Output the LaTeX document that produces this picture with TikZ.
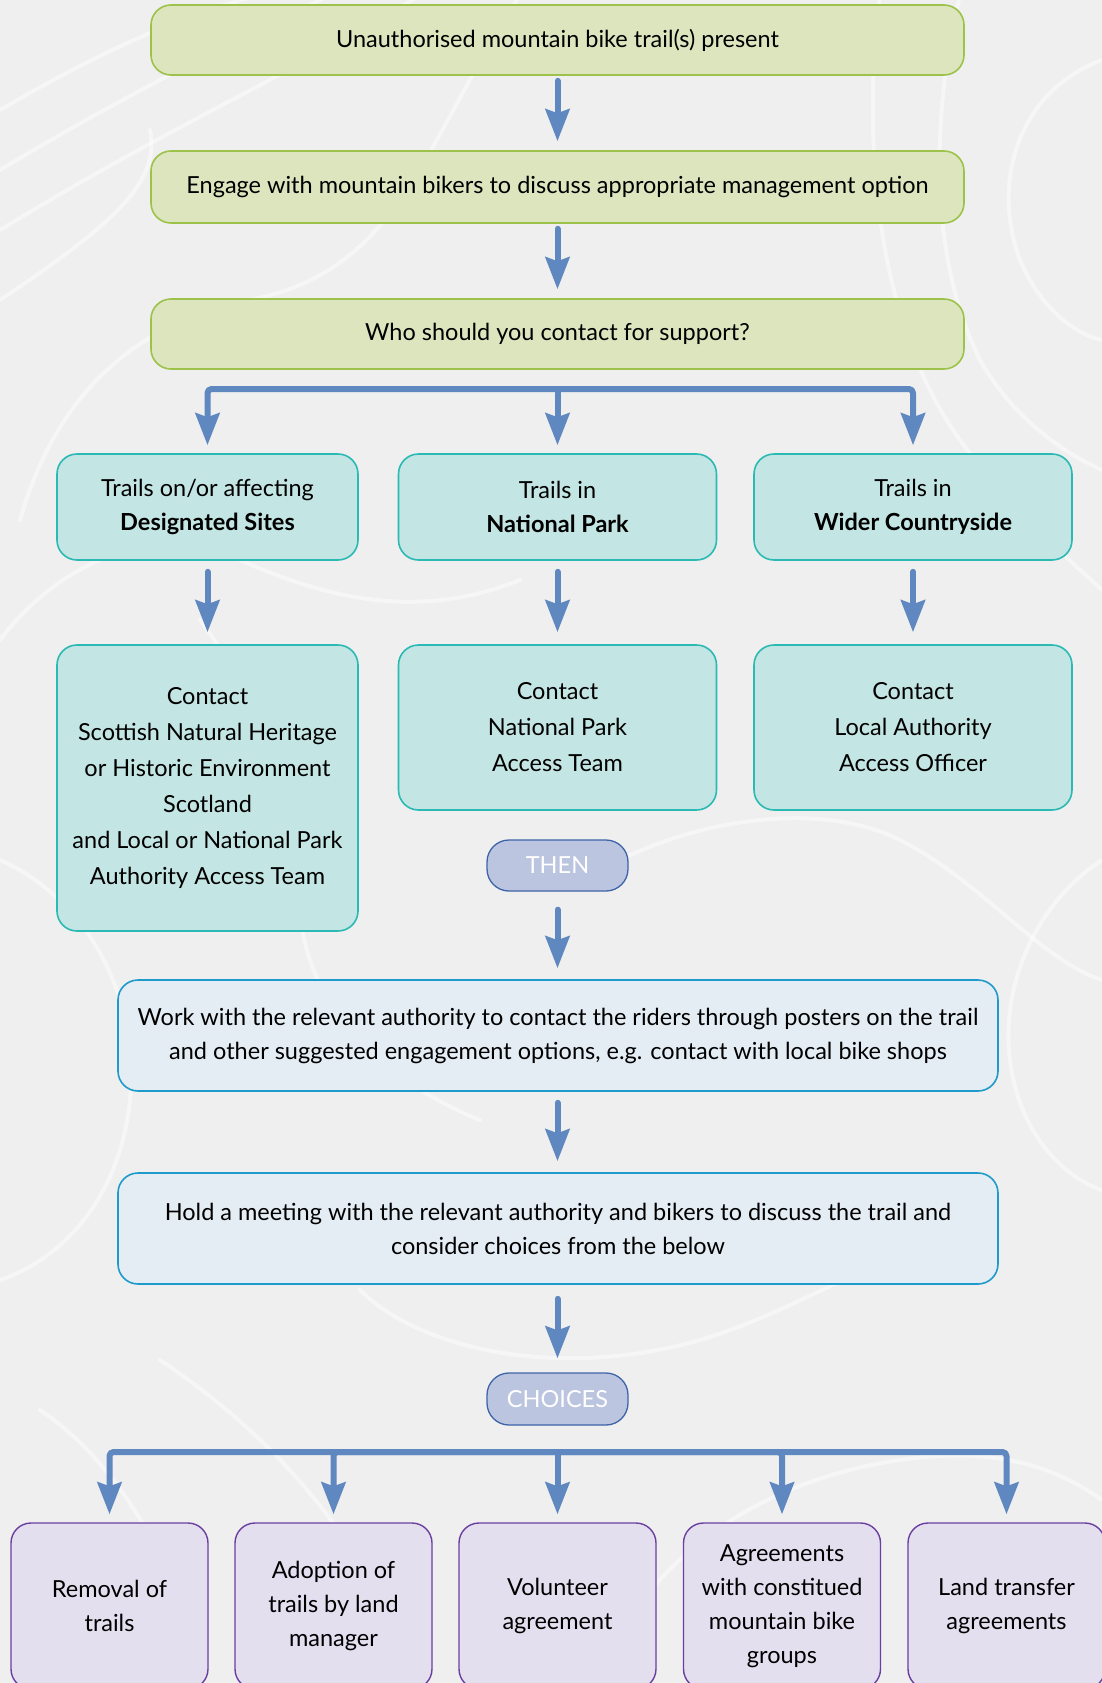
\documentclass[tikz,border=0pt]{standalone}
\usepackage{fontspec}
\setmainfont{Lato}
\usetikzlibrary{arrows.meta}
\definecolor{bg}{HTML}{EFEFEF}
\definecolor{greenfill}{HTML}{DDE5BF}
\definecolor{greenline}{HTML}{9CC24A}
\definecolor{tealfill}{HTML}{C3E5E3}
\definecolor{tealline}{HTML}{2BBAB3}
\definecolor{pillfill}{HTML}{BCC5E0}
\definecolor{pillline}{HTML}{3D64A8}
\definecolor{bluefill}{HTML}{E4ECF4}
\definecolor{blueline}{HTML}{1E9BCB}
\definecolor{purpfill}{HTML}{E3DFEF}
\definecolor{purpline}{HTML}{6B3FA0}
\definecolor{arrowc}{HTML}{6088C0}
\begin{document}
\begin{tikzpicture}[x=1pt,y=-1pt,
  font=\fontsize{23.5}{34}\selectfont,
  box/.style={draw, line width=1.6pt, rounded corners=20pt, align=center, inner sep=0pt, text=black},
  greenbox/.style={box, fill=greenfill, draw=greenline, minimum width=813pt},
  tealbox/.style={box, fill=tealfill, draw=tealline},
  contactbox/.style={tealbox, font=\fontsize{23.5}{36}\selectfont},
  pill/.style={box, fill=pillfill, draw=pillline, rounded corners=22pt, text=white, minimum width=141pt, minimum height=51pt, line width=1.3pt},
  bluebox/.style={box, fill=bluefill, draw=blueline, minimum width=880pt, minimum height=111pt},
  purpbox/.style={box, fill=purpfill, draw=purpline, minimum width=197pt, minimum height=166pt, line width=1.4pt},
  flowline/.style={draw=arrowc, line width=6pt, line cap=round, line join=round},
  flow/.style={flowline, -{Stealth[length=32pt,width=24pt,inset=4pt]}},
  contour/.style={draw=white, line width=4pt, opacity=0.45, line cap=round}
]
\useasboundingbox (0,0) rectangle (1102,1683);
\clip (0,0) rectangle (1102,1683);
\fill[bg] (0,0) rectangle (1102,1683);

% background contour lines
\draw[contour] (0,110) .. controls (120,40) and (200,10) .. (260,-5);
\draw[contour] (0,170) .. controls (150,80) and (260,30) .. (330,-5);
\draw[contour] (0,230) .. controls (180,120) and (320,60) .. (420,-5);
\draw[contour] (0,300) .. controls (120,220) and (160,180) .. (150,130);
\draw[contour] (20,520) .. controls (60,380) and (150,320) .. (250,300) .. controls (400,270) and (420,150) .. (520,-5);
\draw[contour] (0,640) .. controls (60,560) and (160,520) .. (240,560) .. controls (330,600) and (420,620) .. (520,580);
\draw[contour] (1102,60) .. controls (1020,90) and (990,180) .. (1020,260) .. controls (1050,330) and (1100,340) .. (1102,340);
\draw[contour] (960,-5) .. controls (930,120) and (930,260) .. (980,360) .. controls (1020,430) and (1080,460) .. (1102,470);
\draw[contour] (880,-5) .. controls (860,150) and (880,330) .. (960,440) .. controls (1010,510) and (1070,560) .. (1102,590);
\draw[contour] (0,860) .. controls (90,900) and (140,1000) .. (130,1100) .. controls (120,1200) and (60,1260) .. (0,1280);
\draw[contour] (1102,860) .. controls (1040,900) and (1000,980) .. (1010,1060) .. controls (1020,1140) and (1070,1180) .. (1102,1190);
\draw[contour] (360,1290) .. controls (420,1350) and (560,1380) .. (700,1340) .. controls (800,1310) and (860,1260) .. (960,1240);
\draw[contour] (600,1683) .. controls (640,1560) and (760,1480) .. (900,1460) .. controls (1000,1445) and (1060,1470) .. (1102,1500);
\draw[contour] (40,1410) .. controls (100,1450) and (150,1520) .. (190,1620);
\draw[contour] (160,1360) .. controls (250,1420) and (330,1500) .. (380,1600);
\draw[contour] (200,620) .. controls (260,700) and (300,800) .. (300,900) .. controls (300,1000) and (380,1080) .. (480,1120);
\draw[contour] (620,860) .. controls (700,820) and (820,800) .. (900,840) .. controls (980,880) and (1040,960) .. (1102,980);

% top green boxes
\node[greenbox, minimum height=70pt] (b1) at (557.5,40) {Unauthorised mountain bike trail(s) present};
\node[greenbox, minimum height=72pt] (b2) at (557.5,187) {Engage with mountain bikers to discuss appropriate management option};
\node[greenbox, minimum height=70pt] (b3) at (557.5,334) {Who should you contact for support?};

% teal row
\node[tealbox, minimum width=301pt, minimum height=106pt] (t1) at (207.5,507) {Trails on/or affecting\\\textbf{Designated Sites}};
\node[tealbox, minimum width=318pt, minimum height=106pt] (t2) at (557.5,507) {Trails in\\\textbf{National Park}};
\node[tealbox, minimum width=318pt, minimum height=106pt] (t3) at (913,507) {Trails in\\\textbf{Wider Countryside}};

% contact boxes
\node[contactbox, minimum width=301pt, minimum height=286pt] (c1) at (207.5,788) {Contact\\Scottish Natural Heritage\\or Historic Environment\\Scotland\\and Local or National Park\\Authority Access Team};
\node[contactbox, minimum width=318pt, minimum height=165pt] (c2) at (557.5,727.5) {Contact\\National Park\\Access Team};
\node[contactbox, minimum width=318pt, minimum height=165pt] (c3) at (913,727.5) {Contact\\Local Authority\\Access Officer};

% THEN
\node[pill] (then) at (557.5,865.5) {THEN};

% blue boxes
\node[bluebox] (work) at (558,1035.5) {Work with the relevant authority to contact the riders through posters on the trail\\and other suggested engagement options, e.g. contact with local bike shops};
\node[bluebox] (hold) at (558,1228.5) {Hold a meeting with the relevant authority and bikers to discuss the trail and\\consider choices from the below};

% CHOICES
\node[pill, minimum height=52pt] (choices) at (557.5,1399) {CHOICES};

% bottom boxes
\node[purpbox] (p1) at (109.5,1606) {Removal of\\trails};
\node[purpbox] (p2) at (333.5,1606) {Adoption of\\trails by land\\manager};
\node[purpbox] (p3) at (557.5,1606) {Volunteer\\agreement};
\node[purpbox] (p4) at (782,1606) {Agreements\\with constitued\\mountain bike\\groups};
\node[purpbox] (p5) at (1006.5,1606) {Land transfer\\agreements};

% connectors
\draw[flow, shorten <=5pt, shorten >=9pt] (b1.south) -- (b2.north);
\draw[flow, shorten <=5pt, shorten >=9pt] (b2.south) -- (b3.north);

\coordinate (br) at (557.5,389);
\draw[flow, rounded corners=4pt, shorten >=8pt] (br) -| (t1.north);
\draw[flow, shorten >=8pt] (br) -- (t2.north);
\draw[flow, rounded corners=4pt, shorten >=8pt] (br) -| (t3.north);

\draw[flow, shorten <=11pt, shorten >=12pt] (t1.south) -- (c1.north);
\draw[flow, shorten <=11pt, shorten >=12pt] (t2.south) -- (c2.north);
\draw[flow, shorten <=11pt, shorten >=12pt] (t3.south) -- (c3.north);

\draw[flow, shorten <=18pt, shorten >=11pt] (then.south) -- (then.south |- work.north);
\draw[flow, shorten <=11pt, shorten >=11pt] (work.south -| then.south) -- (then.south |- hold.north);
\draw[flow, shorten <=14pt, shorten >=14pt] (hold.south -| then.south) -- (choices.north);

\coordinate (cbr) at (557.5,1452);
\draw[flow, rounded corners=4pt, shorten >=8pt] (cbr) -| (p1.north);
\draw[flow, rounded corners=4pt, shorten >=8pt] (cbr) -| (p2.north);
\draw[flow, shorten >=8pt] (cbr) -- (p3.north);
\draw[flow, rounded corners=4pt, shorten >=8pt] (cbr) -| (p4.north);
\draw[flow, rounded corners=4pt, shorten >=8pt] (cbr) -| (p5.north);
\end{tikzpicture}
\end{document}
